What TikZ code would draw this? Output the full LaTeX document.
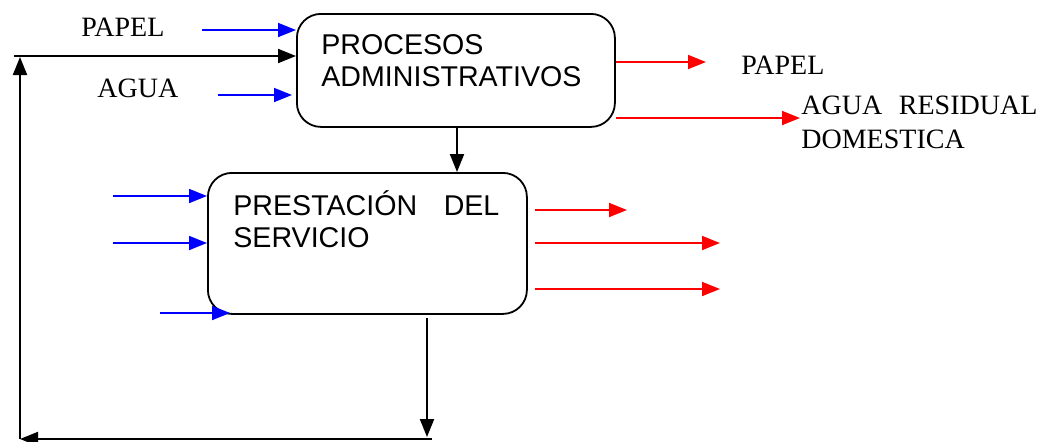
\documentclass[tikz,border=0pt]{standalone}
\usepackage{fontspec}
\setmainfont{Liberation Serif}
\newfontfamily\arialfont{Liberation Sans}
\usetikzlibrary{arrows.meta}
\begin{document}
\begin{tikzpicture}[x=0.5pt,y=-0.5pt,line join=round,>={Triangle[length=9pt,width=7pt]},
  caja/.style={draw,line width=0.9pt,rounded corners=12pt,anchor=north west,inner sep=0pt},
  rotulo/.style={anchor=base west,inner sep=0pt,font=\fontsize{14}{16}\selectfont},
  textocaja/.style={rotulo,font=\arialfont\fontsize{14.3}{16}\selectfont,align=left},
  entra/.style={->,blue,line width=0.9pt},
  sale/.style={->,red,line width=0.9pt},
  flujo/.style={->,black,line width=1pt}]
\useasboundingbox (0,0) rectangle (1058,441);
% cajas
\node[caja,minimum width=159pt,minimum height=56.5pt] (proc) at (296,13) {};
\node[caja,minimum width=159.5pt,minimum height=70.5pt] (prest) at (207,172) {};
\node[textocaja,text width=140pt] (procT) at (321,54) {PROCESOS\\ADMINISTRATIVOS};
\node[textocaja,text width=133pt] (prestT) at (233,215) {PRESTACIÓN\hfill DEL\\SERVICIO};
% rotulos
\node[rotulo] (papelE) at (81,36) {PAPEL};
\node[rotulo] (aguaE) at (97,97) {AGUA};
\node[rotulo] (papelS) at (741,74) {PAPEL};
\node[rotulo,align=left,text width=118pt,font=\fontsize{14}{17}\selectfont] (aguaS) at (801,114) {AGUA\hfill RESIDUAL\\DOMESTICA};
% extremos libres
\coordinate (eP) at (202,30);
\coordinate (eA) at (218,95);
\coordinate (e1) at (113,196);
\coordinate (e2) at (113,243);
\coordinate (e3) at (160,313);
\coordinate (e3f) at (230,313);
\coordinate (sP) at (706,62);
\coordinate (sA) at (800,118);
\coordinate (s1) at (627,210);
\coordinate (s2) at (720,243);
\coordinate (s3) at (720,289);
\coordinate (baja) at (457,0);
\coordinate (rA) at (427,318);
\coordinate (rB) at (427,437);
\coordinate (rC) at (432,439);
\coordinate (rD) at (20,439);
\coordinate (rE) at (20,57);
\coordinate (rF) at (14,56);
% entradas
\draw[entra] (eP) -- (eP -| proc.west);
\draw[entra] (eA) -- ([xshift=-2pt]eA -| proc.west);
\draw[entra] (e1) -- (e1 -| prest.west);
\draw[entra] (e2) -- (e2 -| prest.west);
\draw[entra] (e3) -- (e3f);
% salidas
\draw[sale] (sP -| proc.east) -- (sP);
\draw[sale] (sA -| proc.east) -- (sA);
\foreach \s in {s1,s2,s3}{\draw[sale] ([xshift=3.5pt]\s -| prest.east) -- (\s);}
% flujo interno y retorno
\draw[flujo] (baja |- proc.south) -- (baja |- prest.north);
\draw[flujo] (rA) -- (rB);
\draw[flujo] (rC) -- (rD);
\draw[flujo] (rD) -- (rE);
\draw[flujo] (rF) -- (rF -| proc.west);
\end{tikzpicture}
\end{document}
